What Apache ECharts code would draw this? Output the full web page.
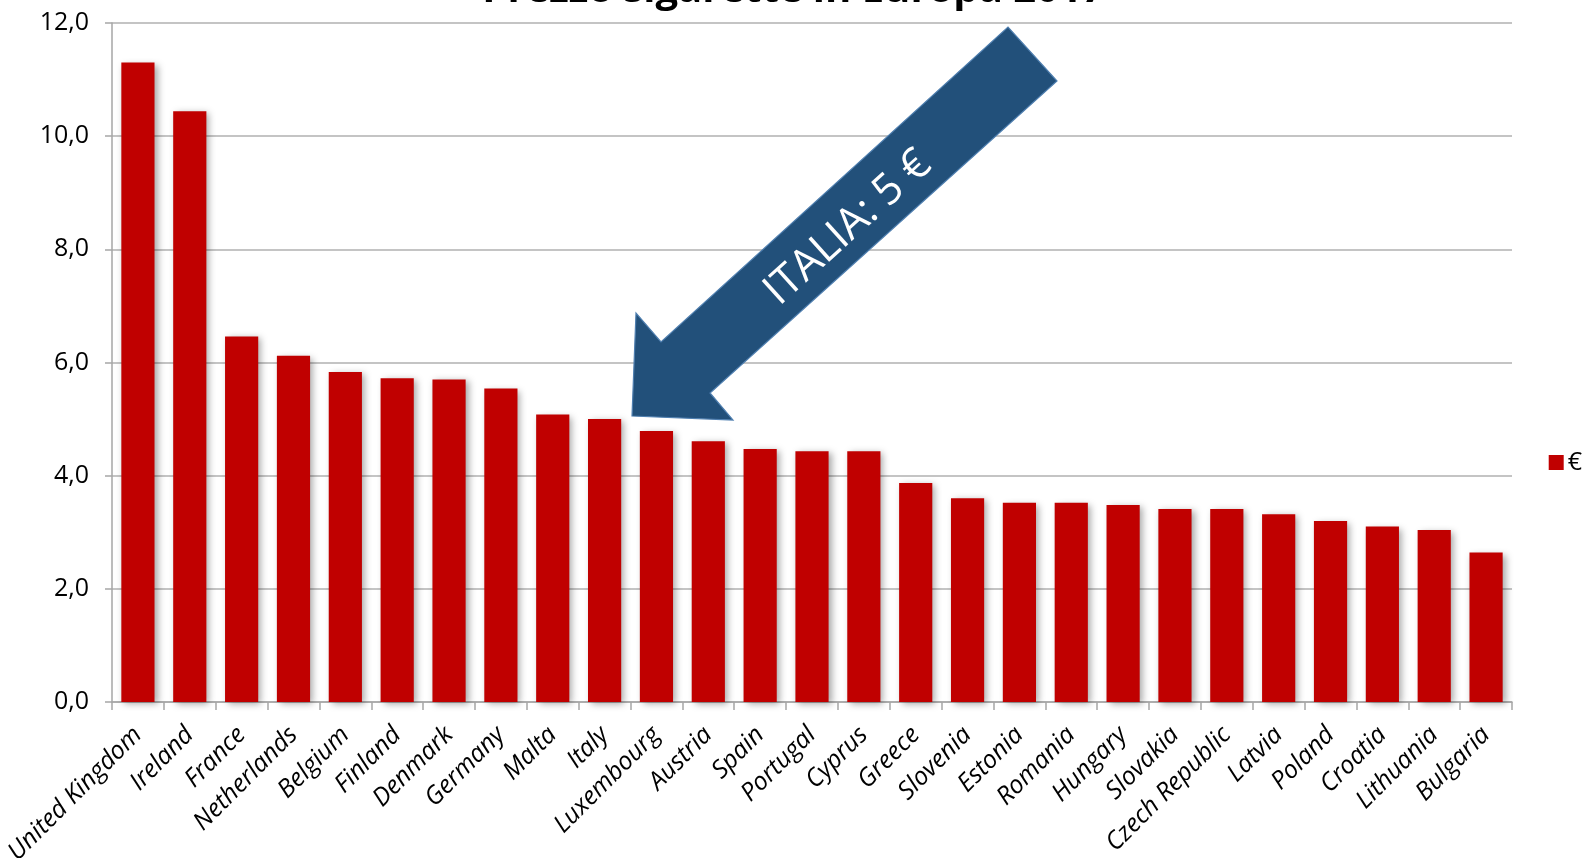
<!DOCTYPE html>
<html>
<head>
<meta charset="utf-8">
<title>Prezzo sigarette in Europa 2017</title>
<script src="https://cdn.jsdelivr.net/npm/echarts@6/dist/echarts.min.js"></script>
<style>
  html, body { margin: 0; padding: 0; background: #ffffff; }
  #chart { width: 1587px; height: 858px; }
</style>
</head>
<body>
<div id="chart"></div>
<script>
// Prezzo medio di un pacchetto di sigarette (€), 2017
const countries = [
  'United Kingdom', 'Ireland', 'France', 'Netherlands', 'Belgium', 'Finland',
  'Denmark', 'Germany', 'Malta', 'Italy', 'Luxembourg', 'Austria', 'Spain',
  'Portugal', 'Cyprus', 'Greece', 'Slovenia', 'Estonia', 'Romania', 'Hungary',
  'Slovakia', 'Czech Republic', 'Latvia', 'Poland', 'Croatia', 'Lithuania', 'Bulgaria'
];
const prices = [
  11.30, 10.44, 6.46, 6.12, 5.83, 5.72,
  5.70, 5.54, 5.08, 5.00, 4.79, 4.61, 4.47,
  4.43, 4.43, 3.87, 3.60, 3.52, 3.52, 3.48,
  3.41, 3.41, 3.32, 3.20, 3.10, 3.04, 2.64
];
const seriesName = '€';
const chartTitle = 'Prezzo sigarette in Europa 2017';
const calloutText = 'ITALIA: 5 €';

const chart = echarts.init(document.getElementById('chart'), null, { renderer: 'canvas' });

const gridLeft = 112, gridRight = 75, gridTop = 23, gridBottom = 156;

chart.setOption({
  animation: false,
  backgroundColor: '#ffffff',
  title: {
    text: chartTitle,
    left: 'center',
    top: -34,
    textStyle: { fontFamily: 'Open Sans', fontWeight: 'bold', fontSize: 40, color: '#000000' }
  },
  legend: {
    data: [seriesName],
    right: 0,
    top: 445,
    icon: 'rect',
    itemWidth: 15,
    itemHeight: 15,
    itemGap: 4,
    textStyle: { fontFamily: 'Open Sans', fontSize: 25, color: '#000000', padding: [0, 0, 0, -1] }
  },
  grid: {
    left: gridLeft, right: gridRight, top: gridTop, bottom: gridBottom,
    containLabel: false,
    outerBoundsMode: 'none'
  },
  xAxis: {
    type: 'category',
    data: countries,
    boundaryGap: true,
    axisLine: { show: true, lineStyle: { color: '#a6a6a6', width: 1.5 } },
    axisTick: { show: true, length: 8, alignWithLabel: false, lineStyle: { color: '#a6a6a6', width: 1.5 } },
    axisLabel: {
      interval: 0,
      rotate: 45,
      margin: 29,
      fontFamily: 'Open Sans',
      fontStyle: 'italic',
      fontSize: 25,
      color: '#000000'
    }
  },
  yAxis: {
    type: 'value',
    min: 0,
    max: 12,
    interval: 2,
    axisLine: { show: true, lineStyle: { color: '#a6a6a6', width: 1.5 } },
    axisTick: { show: true, length: 7, lineStyle: { color: '#a6a6a6', width: 1.5 } },
    splitLine: { show: true, lineStyle: { color: '#b0b0b0', width: 1.5 } },
    axisLabel: {
      margin: 23,
      fontFamily: 'Open Sans',
      fontSize: 25,
      color: '#000000',
      formatter: v => v.toFixed(1).replace('.', ',')
    }
  },
  series: [{
    name: seriesName,
    type: 'bar',
    data: prices,
    barWidth: '64%',
    itemStyle: {
      color: '#c00000',
      shadowColor: 'rgba(0,0,0,0.35)',
      shadowBlur: 7,
      shadowOffsetX: 3,
      shadowOffsetY: 2
    }
  }],
  graphic: [
    {
      type: 'polygon',
      z: 100,
      shape: {
        points: [
          [632, 416], [636, 313], [661, 342], [1008, 27],
          [1057, 81], [710, 393], [733, 420]
        ]
      },
      style: { fill: '#22507a', stroke: '#4f7fb0', lineWidth: 1.2 }
    },
    {
      type: 'text',
      z: 101,
      x: 848,
      y: 228,
      rotation: 42.1 * Math.PI / 180,
      style: {
        text: calloutText,
        fill: '#ffffff',
        fontFamily: 'Open Sans',
        fontSize: 43,
        textAlign: 'center',
        textVerticalAlign: 'middle'
      }
    }
  ]
});
</script>
</body>
</html>
